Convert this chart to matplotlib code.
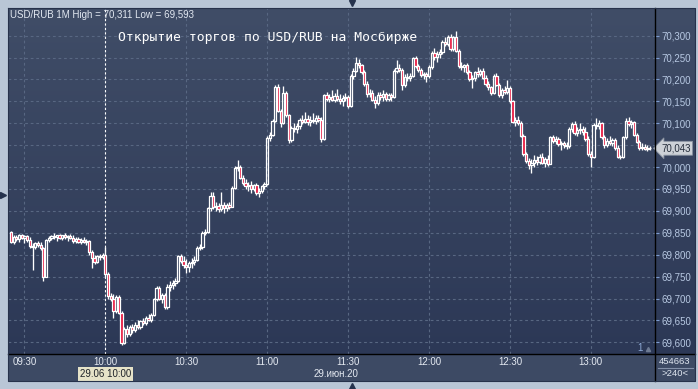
import numpy as np
import pandas as pd
import matplotlib
matplotlib.use("Agg")
import matplotlib.pyplot as plt
from matplotlib.patches import Rectangle
from matplotlib.collections import LineCollection, PatchCollection
from matplotlib.colors import LinearSegmentedColormap
import matplotlib.transforms as mtransforms

plt.rcParams['font.family'] = ['Liberation Sans', 'DejaVu Sans']

# ---------------- data (prices in thousandths of a rouble) ----------------
start_time = "2020-06-29 09:25"

opens = [
    69851, 69828, 69840, 69836, 69845, 69838, 69842, 69833, 69820, 69818,
    69826, 69822, 69815, 69749, 69834, 69838, 69842, 69840, 69844, 69838,
    69845, 69840, 69843, 69838, 69832, 69836, 69830, 69834, 69830, 69832,
    69806, 69792, 69784, 69796, 69794, 69800, 69756, 69706, 69700, 69672,
    69704, 69668, 69598, 69630, 69620, 69636, 69628, 69640, 69634, 69648,
    69644, 69655, 69652, 69662, 69698, 69724, 69698, 69708, 69680, 69726,
    69730, 69736, 69740, 69796, 69786, 69776, 69772, 69780, 69784, 69788,
    69816, 69818, 69850, 69852, 69906, 69934, 69908, 69912, 69904, 69914,
    69906, 69914, 69910, 69952, 69998, 70000, 69976, 69964, 69956, 69958,
    69950, 69958, 69940, 69946, 69956, 69962, 70066, 70074, 70106, 70182,
    70128, 70100, 70170, 70118, 70062, 70090, 70086, 70094, 70108, 70104,
    70110, 70102, 70108, 70106, 70112, 70108, 70064, 70164, 70156, 70160,
    70154, 70162, 70156, 70150, 70158, 70160, 70140, 70208, 70220, 70238,
    70232, 70216, 70190, 70166, 70170, 70154, 70146, 70164, 70160, 70168,
    70156, 70164, 70160, 70220, 70226, 70222, 70188, 70206, 70204, 70208,
    70248, 70230, 70222, 70210, 70212, 70208, 70228, 70260, 70252, 70258,
    70262, 70286, 70282, 70298, 70270, 70296, 70266, 70230, 70228, 70232,
    70216, 70200, 70204, 70216, 70212, 70220, 70204, 70190, 70182, 70170,
    70208, 70188, 70164, 70176, 70172, 70180, 70150, 70104, 70108, 70100,
    70072, 70030, 70014, 70004, 70010, 70016, 70012, 70022, 70010, 70018,
    70008, 70068, 70060, 70064, 70052, 70054, 70050, 70048, 70086, 70098,
    70078, 70084, 70088, 70080, 70064, 70030, 70024, 70096, 70094, 70100,
    70068, 70050, 70060, 70054, 70062, 70044, 70024, 70022, 70068, 70106,
    70098, 70102, 70074, 70058, 70044, 70046, 70042, 70044,
]

highs = [
    69853, 69845, 69846, 69848, 69848, 69846, 69846, 69840, 69826, 69830,
    69832, 69828, 69818, 69836, 69842, 69846, 69850, 69846, 69848, 69846,
    69849, 69846, 69848, 69845, 69840, 69840, 69838, 69840, 69836, 69834,
    69810, 69800, 69800, 69802, 69805, 69818, 69760, 69712, 69710, 69708,
    69708, 69672, 69634, 69640, 69640, 69642, 69646, 69652, 69650, 69655,
    69660, 69665, 69666, 69702, 69728, 69728, 69712, 69712, 69732, 69740,
    69742, 69746, 69800, 69802, 69798, 69790, 69786, 69792, 69796, 69820,
    69824, 69854, 69858, 69910, 69943, 69942, 69920, 69918, 69943, 69920,
    69918, 69920, 69956, 70002, 70016, 70004, 69982, 69972, 69966, 69968,
    69962, 69964, 69952, 69960, 69966, 70070, 70080, 70110, 70188, 70190,
    70132, 70185, 70174, 70122, 70094, 70100, 70100, 70112, 70118, 70126,
    70118, 70116, 70124, 70120, 70120, 70114, 70168, 70172, 70166, 70176,
    70170, 70178, 70168, 70164, 70170, 70164, 70212, 70226, 70252, 70246,
    70236, 70222, 70196, 70178, 70176, 70162, 70172, 70172, 70176, 70172,
    70170, 70170, 70224, 70245, 70236, 70226, 70212, 70214, 70214, 70252,
    70254, 70236, 70226, 70218, 70216, 70232, 70266, 70272, 70264, 70270,
    70290, 70296, 70302, 70304, 70300, 70311, 70270, 70240, 70236, 70238,
    70222, 70210, 70220, 70228, 70224, 70226, 70210, 70196, 70186, 70212,
    70214, 70192, 70180, 70184, 70199, 70184, 70154, 70114, 70116, 70106,
    70076, 70034, 70020, 70018, 70028, 70026, 70030, 70032, 70024, 70028,
    70072, 70074, 70070, 70068, 70060, 70060, 70058, 70092, 70104, 70106,
    70092, 70100, 70094, 70092, 70070, 70036, 70100, 70112, 70108, 70104,
    70074, 70066, 70070, 70066, 70066, 70050, 70028, 70072, 70112, 70114,
    70108, 70106, 70078, 70062, 70054, 70052, 70050, 70048,
]

lows = [
    69826, 69825, 69832, 69830, 69835, 69826, 69830, 69815, 69766, 69812,
    69818, 69810, 69740, 69748, 69830, 69834, 69836, 69832, 69836, 69834,
    69835, 69832, 69836, 69826, 69826, 69826, 69824, 69826, 69822, 69800,
    69770, 69778, 69780, 69788, 69790, 69750, 69700, 69694, 69655, 69668,
    69664, 69593, 69596, 69612, 69614, 69622, 69624, 69630, 69630, 69640,
    69640, 69648, 69646, 69660, 69694, 69696, 69690, 69676, 69676, 69718,
    69722, 69728, 69738, 69780, 69770, 69758, 69760, 69770, 69776, 69786,
    69810, 69814, 69844, 69850, 69900, 69904, 69900, 69898, 69900, 69896,
    69900, 69904, 69908, 69950, 69990, 69972, 69960, 69950, 69946, 69940,
    69946, 69936, 69932, 69940, 69950, 69960, 70060, 70070, 70104, 70126,
    70092, 70098, 70114, 70055, 70058, 70080, 70078, 70088, 70098, 70100,
    70096, 70094, 70100, 70098, 70102, 70058, 70062, 70150, 70148, 70152,
    70148, 70150, 70144, 70140, 70150, 70134, 70138, 70200, 70216, 70226,
    70212, 70186, 70160, 70160, 70150, 70135, 70142, 70154, 70152, 70150,
    70150, 70152, 70158, 70214, 70218, 70175, 70182, 70196, 70196, 70206,
    70226, 70218, 70206, 70200, 70194, 70204, 70224, 70244, 70240, 70248,
    70258, 70276, 70276, 70266, 70266, 70262, 70226, 70222, 70216, 70212,
    70196, 70180, 70196, 70206, 70208, 70200, 70186, 70176, 70164, 70166,
    70184, 70160, 70158, 70168, 70168, 70146, 70100, 70094, 70096, 70068,
    70026, 70010, 69996, 69986, 70000, 70004, 70006, 70006, 70000, 70002,
    70006, 70056, 70052, 70048, 70040, 70044, 70042, 70044, 70080, 70074,
    70070, 70076, 70074, 70060, 70026, 70000, 70020, 70088, 70086, 70064,
    70044, 70046, 70050, 70048, 70040, 70020, 70018, 70020, 70064, 70094,
    70090, 70070, 70054, 70040, 70038, 70038, 70036, 70040,
]

closes = [
    69828, 69840, 69836, 69845, 69838, 69842, 69833, 69820, 69818, 69826,
    69822, 69815, 69749, 69834, 69838, 69842, 69840, 69844, 69838, 69845,
    69840, 69843, 69838, 69832, 69836, 69830, 69834, 69830, 69832, 69806,
    69792, 69784, 69796, 69794, 69800, 69756, 69706, 69700, 69672, 69704,
    69668, 69598, 69630, 69620, 69636, 69628, 69640, 69634, 69648, 69644,
    69655, 69652, 69662, 69698, 69724, 69698, 69708, 69680, 69726, 69730,
    69736, 69740, 69796, 69786, 69776, 69772, 69780, 69784, 69788, 69816,
    69818, 69850, 69852, 69906, 69934, 69908, 69912, 69904, 69914, 69906,
    69914, 69910, 69952, 69998, 70000, 69976, 69964, 69956, 69958, 69950,
    69958, 69940, 69946, 69956, 69962, 70066, 70074, 70106, 70182, 70128,
    70100, 70170, 70118, 70062, 70090, 70086, 70094, 70108, 70104, 70110,
    70102, 70108, 70106, 70112, 70108, 70064, 70164, 70156, 70160, 70154,
    70162, 70156, 70150, 70158, 70160, 70140, 70208, 70220, 70238, 70232,
    70216, 70190, 70166, 70170, 70154, 70146, 70164, 70160, 70168, 70156,
    70164, 70160, 70220, 70226, 70222, 70188, 70206, 70204, 70208, 70248,
    70230, 70222, 70210, 70212, 70208, 70228, 70260, 70252, 70258, 70262,
    70286, 70282, 70298, 70270, 70296, 70266, 70230, 70228, 70232, 70216,
    70200, 70204, 70216, 70212, 70220, 70204, 70190, 70182, 70170, 70208,
    70188, 70164, 70176, 70172, 70180, 70150, 70104, 70108, 70100, 70072,
    70030, 70014, 70004, 70010, 70016, 70012, 70022, 70010, 70018, 70008,
    70068, 70060, 70064, 70052, 70054, 70050, 70048, 70086, 70098, 70078,
    70084, 70088, 70080, 70064, 70030, 70024, 70096, 70094, 70100, 70068,
    70050, 70060, 70054, 70062, 70044, 70024, 70022, 70068, 70106, 70098,
    70102, 70074, 70058, 70044, 70046, 70042, 70044, 70043,
]

time_labels = ["09:30", "10:00", "10:30", "11:00", "11:30", "12:00", "12:30", "13:00"]
price_levels = [69.600, 69.650, 69.700, 69.750, 69.800, 69.850, 69.900, 69.950,
                70.000, 70.050, 70.100, 70.150, 70.200, 70.250, 70.300]
marker_time = "10:00"
marker_label = "29.06 10:00"
date_label = "29.июн.20"
title = "Открытие торгов по USD/RUB на Мосбирже"
bars_total = "454663"
bars_visible = ">240<"
pane_number = "1"

# ---------------- figure ----------------
W, H = 698, 389
fig = plt.figure(figsize=(W / 100, H / 100), dpi=100)
fig.patch.set_facecolor('#b9c6d6')


def px(x0, y0, x1, y1):
    return [x0 / W, 1 - y1 / H, (x1 - x0) / W, (y1 - y0) / H]


o = np.array(opens) / 1000
h = np.array(highs) / 1000
l = np.array(lows) / 1000
c = np.array(closes) / 1000
n = len(c)
times = pd.date_range(start_time, periods=n, freq="min")
hhmm = np.array(times.strftime("%H:%M"))
tick_pos = [int(np.where(hhmm == t)[0][0]) for t in time_labels]
marker_idx = int(np.where(hhmm == marker_time)[0][0])

bg_cmap = LinearSegmentedColormap.from_list('bg', ['#2c3856', '#404d67'])
grad = np.linspace(0, 1, 256).reshape(-1, 1)

# right (price) panel background
ax_r = fig.add_axes(px(655, 8, 695, 354))
ax_r.imshow(grad, extent=[0, 1, 0, 1], transform=ax_r.transAxes, aspect='auto',
            cmap=bg_cmap, origin='lower')
ax_r.set_axis_off()

# bottom (time) panel background
ax_b = fig.add_axes(px(8, 354, 695, 381))
ax_b.set_facecolor('#3d4a64')
ax_b.set_xticks([])
ax_b.set_yticks([])
for s in ax_b.spines.values():
    s.set_visible(False)

# main candle panel
ax = fig.add_axes(px(8, 8, 655, 354))
ax.imshow(grad, extent=[0, 1, 0, 1], transform=ax.transAxes, aspect='auto',
          cmap=bg_cmap, origin='lower', zorder=-5)
for s in ax.spines.values():
    s.set_visible(False)

ax.set_xlim(-1.1, 238.8)
ax.set_ylim(69.5733, 70.3632)

# price labels; the one hidden behind the last-price tag is left blank
last = c[-1]
ylabels = [("" if abs(v - last) < 0.012 else f"{v:.3f}".replace('.', ','))
           for v in price_levels]

ax.set_xticks(tick_pos)
ax.set_xticklabels(time_labels)
ax.set_yticks(price_levels)
ax.set_yticklabels(ylabels)
ax.tick_params(axis='x', length=0, pad=2.5, labelsize=7, labelcolor='#e4e9f1')
ax.tick_params(axis='y', left=False, labelleft=False, right=True, labelright=True,
               length=3, width=0.8, color='#7d9cd0', pad=1.5, labelsize=7,
               labelcolor='#b7c8e2')
ax.grid(True, color='#586782', linestyle=(0, (2.5, 2.5)), linewidth=0.8)
ax.set_axisbelow(True)

# candles
up = c >= o
bodies = []
fcs = []
for i in range(n):
    lo_b = min(o[i], c[i])
    hgt = max(abs(c[i] - o[i]), 0.0008)
    bodies.append(Rectangle((i - 0.42, lo_b), 0.84, hgt))
    fcs.append((0, 0, 0, 0) if up[i] else '#e8143c')
wicks = []
for i in range(n):
    wicks.append([(i, l[i]), (i, min(o[i], c[i]))])
    wicks.append([(i, max(o[i], c[i])), (i, h[i])])
ax.add_collection(LineCollection(wicks, colors='white', linewidths=0.95, zorder=3))
ax.add_collection(PatchCollection(bodies, facecolors=fcs, edgecolors='white',
                                  linewidths=0.9, zorder=4))

# vertical marker line at 10:00
ax.axvline(marker_idx, color='white', linestyle=(0, (2, 2)), linewidth=0.8, zorder=2)

# marker label under time axis
blend = mtransforms.blended_transform_factory(ax.transData, ax.transAxes)
ax.text(marker_idx, -0.058, marker_label, transform=blend, ha='center', va='center',
        fontsize=7, color='#1e2228',
        bbox=dict(boxstyle='square,pad=0.18', fc='#e6e3c8', ec='none'))

# last price tag
blend_y = mtransforms.blended_transform_factory(ax.transAxes, ax.transData)
ax.text(1.0 + 6 / 647, last, f"{last:.3f}".replace('.', ','), transform=blend_y,
        ha='left', va='center', fontsize=7, color='#262e3c', zorder=10,
        bbox=dict(boxstyle='larrow,pad=0.2', fc='#cdd1d7', ec='#8b94a2', lw=0.6))

# overlay in pixel coordinates for frame decorations and labels
ov = fig.add_axes([0, 0, 1, 1], zorder=20)
ov.set_xlim(0, W)
ov.set_ylim(H, 0)
ov.set_axis_off()
ov.patch.set_alpha(0)

ov.plot([655, 655], [8, 381], color='black', lw=1.0)
ov.plot([8, 695], [354, 354], color='black', lw=1.0)
ov.plot([8, 695, 695, 8, 8], [8, 8, 381, 381, 8], color='#27324b', lw=0.8)
ov.plot([658, 693], [367.5, 367.5], color='#8390a8', lw=0.8)

info = (f"USD/RUB 1M High = {h.max():.3f} Low = {l.min():.3f}").replace('.', ',')
ov.text(10, 15, info, fontsize=7, color='#e2e8f1', ha='left', va='center')
ov.text(268, 37, title, fontsize=9.4, color='white', ha='center', va='center',
        family=['DejaVu Sans Mono', 'DejaVu Sans'])
ov.text(336, 374, date_label, fontsize=7, color='#e4e9f1', ha='center', va='center')
ov.text(675, 361, bars_total, fontsize=6.8, color='#dfe6f0', ha='center', va='center')
ov.text(675, 374, bars_visible, fontsize=6.8, color='#dfe6f0', ha='center', va='center')
ov.text(640, 348, pane_number, fontsize=7, color='#8eaad6', ha='center', va='center')
ov.plot(648, 349, marker='^', ms=3, color='#6e7b93')

ov.plot(352, 3, marker='v', ms=5, color='#25324d', clip_on=False)
ov.plot(3, 195, marker='>', ms=5, color='#25324d', clip_on=False)
ov.plot(352, 386, marker='^', ms=5, color='#25324d', clip_on=False)

fig.savefig("out.png", dpi=100, facecolor=fig.get_facecolor())
